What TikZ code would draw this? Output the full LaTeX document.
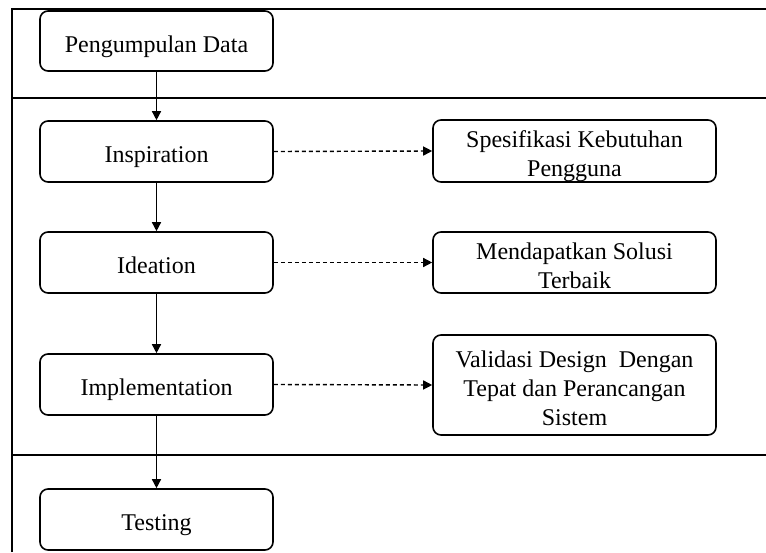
\documentclass[tikz,border=0pt]{standalone}
\usepackage{fontspec}
\setmainfont{Liberation Serif}
\usetikzlibrary{arrows.meta}
\newcommand{\lowtxt}[1]{\raisebox{-5.5pt}[\height][\depth]{\begin{tabular}{@{}c@{}}#1\end{tabular}}}
\begin{document}
\begin{tikzpicture}[x=1pt,y=-1pt,
  box/.style={draw, line width=1.6pt, rounded corners=8pt, align=center, inner sep=0pt,
    font=\fontsize{24}{29}\selectfont},
  lbox/.style={box, minimum width=233pt, minimum height=61pt},
  rbox/.style={box, minimum width=283pt},
  flow/.style={line width=1.4pt, -{Triangle[length=9pt,width=9pt]}},
  dflow/.style={line width=1.4pt, dash pattern=on 4pt off 3pt, -{Triangle[length=9pt,width=9pt]}},
  frame/.style={line width=2.2pt},
  sep/.style={line width=1.8pt}]
\useasboundingbox (0,0) rectangle (766,552);
% frame
\draw[frame] (12,552) -- (12,9) -- (766,9);
\draw[sep] (12,98) -- (766,98);
\draw[sep] (12,455) -- (766,455);
% left column
\node[lbox, minimum height=60pt] (pd) at (156.5,41) {\lowtxt{Pengumpulan Data}};
\node[lbox] (insp) at (156.5,151.5) {\lowtxt{Inspiration}};
\node[lbox] (idea) at (156.5,262.5) {\lowtxt{Ideation}};
\node[lbox] (impl) at (156.5,384.5) {\lowtxt{Implementation}};
\node[lbox] (test) at (156.5,519.5) {\lowtxt{Testing}};
% right column
\node[rbox, minimum height=62pt] (spes) at (574.5,151) {\lowtxt{Spesifikasi Kebutuhan\\Pengguna}};
\node[rbox, minimum height=61pt] (mend) at (574.5,262.5) {\lowtxt{Mendapatkan Solusi\\Terbaik}};
\node[rbox, minimum height=100pt] (vali) at (574.5,385) {\lowtxt{Validasi Design\ \ Dengan\\Tepat dan Perancangan\\Sistem}};
% connectors
\draw[flow] (pd) -- (insp);
\draw[flow] (insp) -- (idea);
\draw[flow] (idea) -- (impl);
\draw[flow] (impl) -- (test);
\draw[dflow] (insp.east) -- (spes.west);
\draw[dflow] (idea.east) -- (mend.west);
\draw[dflow] (impl.east) -- (vali.west);
\end{tikzpicture}
\end{document}
